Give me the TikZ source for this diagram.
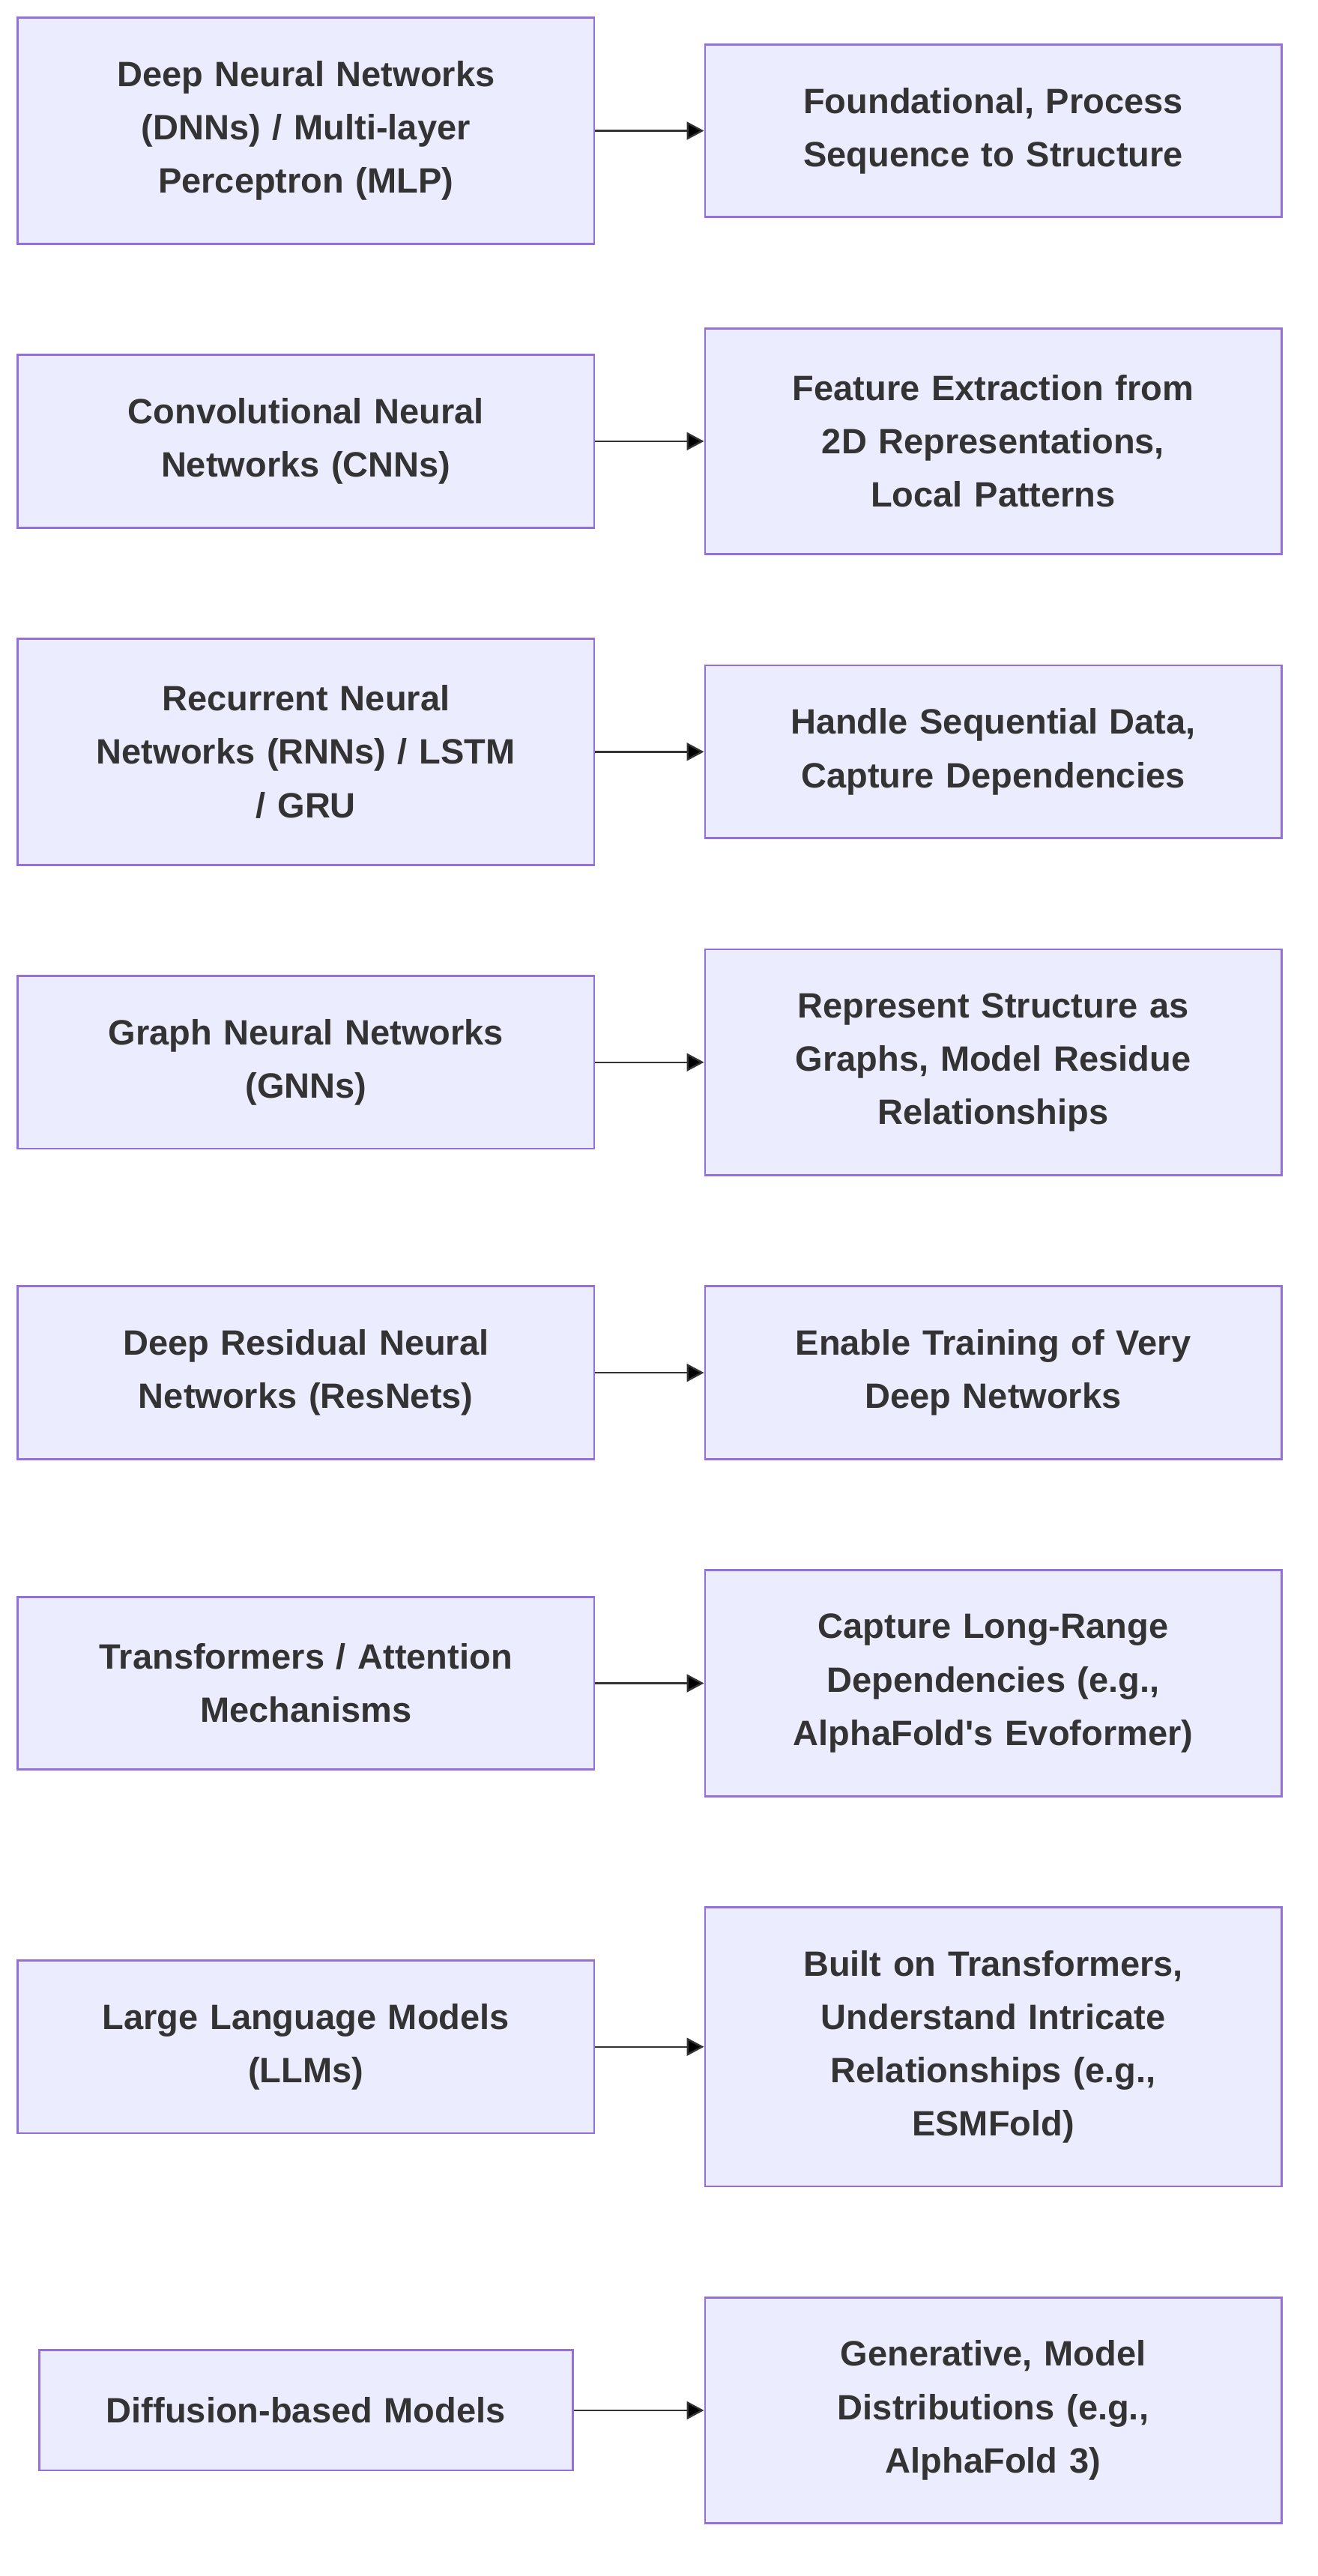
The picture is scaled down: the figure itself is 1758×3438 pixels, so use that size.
\documentclass[tikz,border=0pt]{standalone}
\usepackage{fontspec}
\setmainfont{Liberation Sans}
\usepackage{xcolor}
\usetikzlibrary{arrows.meta}

\definecolor{boxfill}{HTML}{ECECFF}
\definecolor{boxline}{HTML}{9370DB}
\definecolor{ink}{HTML}{333333}

\begin{document}
\begin{tikzpicture}[x=0.5pt, y=-0.5pt, node distance=207.2pt, text=ink,
    font=\fontsize{23.5}{35.6}\selectfont\bfseries,
    base/.style={draw=boxline, fill=boxfill, line width=1.4pt, rectangle, inner sep=0pt, text width=384.6pt, align=center},
    h1/.style={minimum height=80.15pt},
    h2/.style={minimum height=115.25pt},
    h3/.style={minimum height=150.8pt},
    h4/.style={minimum height=186.3pt},
    link/.style={-{Triangle[length=11.5pt, width=12pt]}, draw=ink, line width=1.2pt}]

    \useasboundingbox (0,0) rectangle (1758,3438);

    \node[base, h3] (DNN) at (408.3,174.5)
    { Deep Neural Networks\\(DNNs) / Multi-layer\\Perceptron (MLP) };

    \node[base, h2, below of=DNN] (CNN)
    { Convolutional Neural\\Networks (CNNs) };

    \node[base, h3, below of=CNN] (RNN)
    { Recurrent Neural\\Networks (RNNs) / LSTM\\/ GRU };

    \node[base, h2, below of=RNN] (GNN)
    { Graph Neural Networks\\(GNNs) };

    \node[base, h2, below of=GNN] (ResNet)
    { Deep Residual Neural\\Networks (ResNets) };

    \node[base, h2, below of=ResNet] (Trans)
    { Transformers / Attention\\Mechanisms };

    \node[base, h2, node distance=242.6pt, below of=Trans] (LLM)
    { Large Language Models\\(LLMs) };

    \node[base, h1, text width=356.2pt, node distance=242.6pt, below of=LLM] (Diff)
    { Diffusion-based Models };

    % ---------------------------------------------------------

    \node[base, h2, node distance=458.6pt, right of=DNN] (DNNuse)
    { Foundational, Process\\Sequence to Structure };

    \node[base, h3, node distance=458.6pt, right of=CNN] (CNNuse)
    { Feature Extraction from\\2D Representations,\\Local Patterns };

    \node[base, h2, node distance=458.6pt, right of=RNN] (RNNuse)
    { Handle Sequential Data,\\Capture Dependencies };

    \node[base, h3, node distance=458.6pt, right of=GNN] (GNNuse)
    { Represent Structure as\\Graphs, Model Residue\\Relationships };

    \node[base, h2, node distance=458.6pt, right of=ResNet] (ResNetuse)
    { Enable Training of Very\\Deep Networks };

    \node[base, h3, node distance=458.6pt, right of=Trans] (Transuse)
    { Capture Long-Range\\Dependencies (e.g.,\\AlphaFold\textquotesingle s Evoformer) };

    \node[base, h4, node distance=458.6pt, right of=LLM] (LLMuse)
    { Built on Transformers,\\Understand Intricate\\Relationships (e.g.,\\ESMFold) };

    \node[base, h3, node distance=458.6pt, right of=Diff] (Diffuse)
    { Generative, Model\\Distributions (e.g.,\\AlphaFold 3) };

    \path[link]
    {
        (DNN) edge (DNNuse)
        (CNN) edge (CNNuse)
        (RNN) edge (RNNuse)
        (GNN) edge (GNNuse)
        (ResNet) edge (ResNetuse)
        (Trans) edge (Transuse)
        (LLM) edge (LLMuse)
        (Diff) edge (Diffuse)
    };
\end{tikzpicture}
\end{document}
